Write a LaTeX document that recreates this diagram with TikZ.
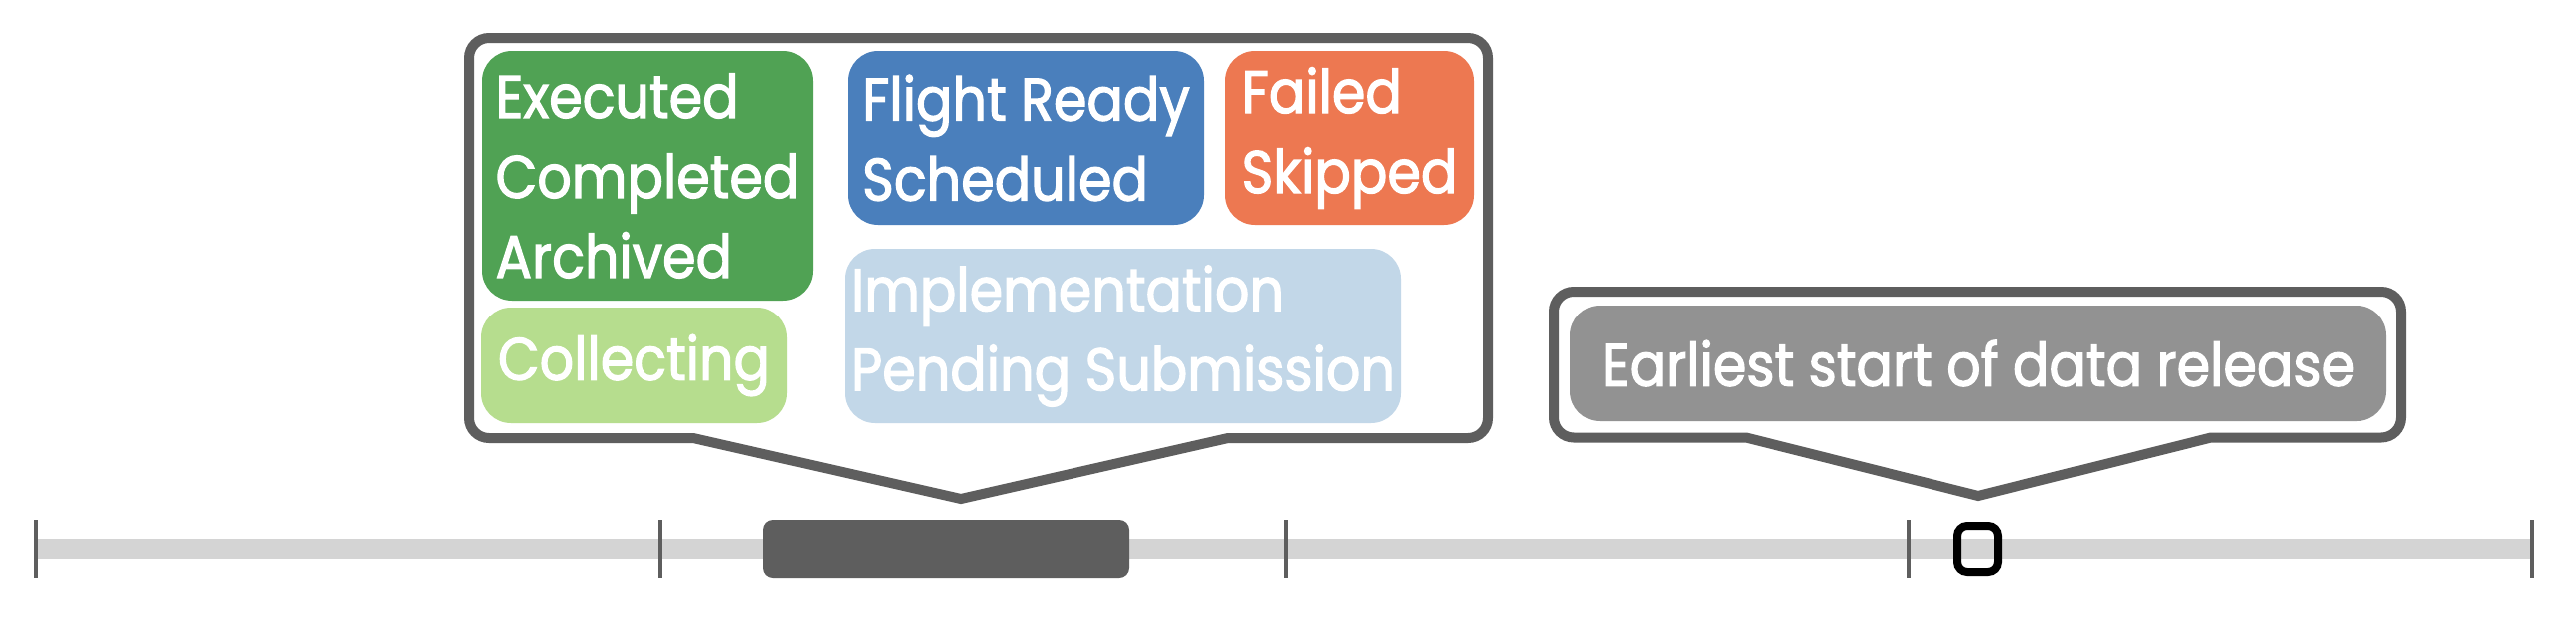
\documentclass[tikz,border=0pt]{standalone}
\usepackage{fontspec}
\setmainfont{Poppins}[FakeBold=2.2]
\usepackage{graphicx}
\definecolor{stk}{HTML}{5E5E5E}
\definecolor{barc}{HTML}{D4D4D4}
\definecolor{cgreen}{HTML}{50A254}
\definecolor{clgreen}{HTML}{B6DD8E}
\definecolor{cblue}{HTML}{4A7FBC}
\definecolor{corange}{HTML}{ED7851}
\definecolor{clblue}{HTML}{C2D7E8}
\definecolor{cgray}{HTML}{929292}
\newcommand\sqf{0.9}
\newcommand\sq[1]{\scalebox{\sqf}[1]{#1}}
\begin{document}
\begin{tikzpicture}[x=0.5pt,y=-0.5pt,
  callout/.style={draw=stk,line width=5pt,fill=white,line join=miter},
  stbox/.style={rounded corners=15pt,inner sep=0pt,text=white,align=left,
    font=\fontsize{30}{40}\selectfont},
  tick/.style={draw=stk,line width=2pt},
]
\useasboundingbox[fill=white] (0,0) rectangle (2582,632);
% timeline
\draw[barc,line width=10pt] (36,550) -- (2538,550);
\foreach \x/\n in {36/t1,662/t2,1289/t3,1913/t4,2538/t5}{
  \coordinate (\n a) at (\x,521);
  \coordinate (\n b) at (\x,579);
  \draw[tick] (\n a) -- (\n b);
}
\node[fill=stk,rounded corners=5pt,minimum width=183.5pt,minimum height=29pt,inner sep=0pt] (span) at (948.5,550) {};
\node[draw=black,line width=4pt,rounded corners=5pt,minimum width=20.5pt,minimum height=23pt,inner sep=0pt] (pt) at (1982.5,550) {};
% callout 1
\coordinate (c1tip) at (963,500);
\draw[callout] (c1tip) -- (695,439) {[rounded corners=10pt] -- (470,439) -- (470,38) -- (1491,38) -- (1491,439)} -- (1231,439) -- cycle;
% callout 2
\coordinate (c2tip) at (1983,497);
\draw[callout] (c2tip) -- (1750,438.5) {[rounded corners=10pt] -- (1558,438.5) -- (1558,292) -- (2407,292) -- (2407,438.5)} -- (2216,438.5) -- cycle;
% state boxes
\node[stbox,fill=cgreen,minimum width=166pt,minimum height=125pt] (exec) at (649,176)
  {\sq{Executed}\\\sq{Completed}\\\sq{Archived}};
\node[stbox,fill=clgreen,minimum width=153.5pt,minimum height=58pt] (coll) at (635.5,366)
  {\sq{Collecting}};
\node[stbox,fill=cblue,minimum width=178.5pt,minimum height=87pt] (fly) at (1028.5,138)
  {\sq{Flight Ready}\\\sq{Scheduled}};
\node[stbox,fill=corange,minimum width=124.5pt,minimum height=87pt] (fail) at (1352.5,138)
  {\sq{Failed}\\\sq{Skipped}};
\node[stbox,fill=clblue,minimum width=278.5pt,minimum height=87.5pt] (impl) at (1125.5,336.5)
  {\sq{Implementation}\\\sq{Pending Submission}};
\node[stbox,fill=cgray,minimum width=409pt,minimum height=58pt] (rel) at (1983,364)
  {\sq{Earliest start of data release}};
\end{tikzpicture}
\end{document}
